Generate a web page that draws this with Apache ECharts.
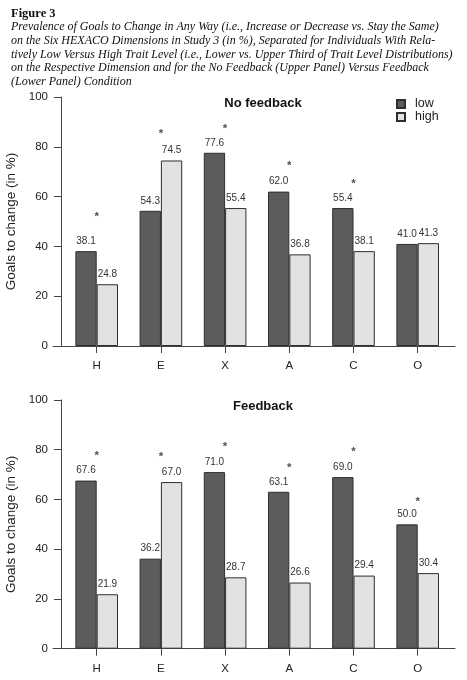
<!DOCTYPE html>
<html>
<head>
<meta charset="utf-8">
<script src="https://cdn.jsdelivr.net/npm/echarts@6/dist/echarts.min.js"></script>
<style>
html,body{margin:0;padding:0;background:#fff;}
#chart{width:467px;height:680px;}
</style>
</head>
<body>
<div id="chart"></div>
<script>
// ---- data ----
const categories = ['H', 'E', 'X', 'A', 'C', 'O'];
const noFeedbackLow  = [38.1, 54.3, 77.6, 62.0, 55.4, 41.0];
const noFeedbackHigh = [24.8, 74.5, 55.4, 36.8, 38.1, 41.3];
const feedbackLow    = [67.6, 36.2, 71.0, 63.1, 69.0, 50.0];
const feedbackHigh   = [21.9, 67.0, 28.7, 26.6, 29.4, 30.4];
// significance marker heights (estimated, in %)
const noFeedbackStars = [51.9, 85.4, 87.4, 72.3, 65.1, null];
const feedbackStars   = [77.6, 77.2, 81.2, 72.8, 79.2, 58.9];
const yTicks = [0, 20, 40, 60, 80, 100];
const panelTitles = ['No feedback', 'Feedback'];
const seriesNames = ['low', 'high'];
const figureLabel = 'Figure 3';
const captionLines = [
  'Prevalence of Goals to Change in Any Way (i.e., Increase or Decrease vs. Stay the Same)',
  'on the Six HEXACO Dimensions in Study 3 (in %), Separated for Individuals With Rela-',
  'tively Low Versus High Trait Level (i.e., Lower vs. Upper Third of Trait Level Distributions)',
  'on the Respective Dimension and for the No Feedback (Upper Panel) Versus Feedback',
  '(Lower Panel) Condition'
];
const yAxisTitle = 'Goals to change (in %)';

// ---- styling ----
const SANS = '"Liberation Sans", Arial, sans-serif';
const SERIF = '"Liberation Serif", "Times New Roman", serif';
const AX = '#444';
const DARK = '#5c5c5c';
const LIGHT = '#e2e2e2';
const BORDER = '#2e2e2e';

const panels = [
  {top: 97, bottom: 334, low: noFeedbackLow, high: noFeedbackHigh, stars: noFeedbackStars, title: panelTitles[0], titleTop: 92},
  {top: 400, bottom: 31.3, low: feedbackLow, high: feedbackHigh, stars: feedbackStars, title: panelTitles[1], titleTop: 395}
];

const grid = [], xAxis = [], yAxis = [], series = [];
const titles = [
  {text: figureLabel, left: 6, top: 2, textStyle: {fontFamily: SERIF, fontSize: 12.5, fontWeight: 'bold', color: '#111'}},
  {text: captionLines.join('\n'), left: 6, top: 15.5, textStyle: {fontFamily: SERIF, fontSize: 12, fontStyle: 'italic', fontWeight: 'normal', color: '#111', lineHeight: 13.65}}
];

const labelFmt = p => (p.value == null ? '' : Number(p.value).toFixed(1));

panels.forEach((p, i) => {
  const gBar = grid.length;
  grid.push({left: 64.6, right: 17.2, top: p.top, bottom: p.bottom, containLabel: false, outerBoundsMode: 'none'});
  const gBase = grid.length;
  grid.push({left: 53, right: 12, top: p.top, bottom: p.bottom, containLabel: false, outerBoundsMode: 'none'});

  xAxis.push({
    type: 'category', gridIndex: gBar, data: categories,
    axisLine: {show: false},
    axisTick: {show: true, alignWithLabel: true, length: 7, lineStyle: {color: AX}},
    axisLabel: {color: '#222', fontFamily: SANS, fontSize: 11.5, margin: 14}
  });
  xAxis.push({
    type: 'value', gridIndex: gBase, min: 0, max: 1,
    axisLine: {show: true, lineStyle: {color: AX, width: 1}},
    axisTick: {show: false}, axisLabel: {show: false}, splitLine: {show: false}
  });
  yAxis.push({
    type: 'value', gridIndex: gBar, min: yTicks[0], max: yTicks[yTicks.length - 1], interval: 20,
    offset: 3.6,
    name: yAxisTitle, nameLocation: 'middle', nameGap: 35,
    nameTextStyle: {fontFamily: SANS, fontSize: 13.5, color: '#222'},
    axisLine: {show: true, lineStyle: {color: AX}},
    axisTick: {show: true, length: 7, lineStyle: {color: AX}},
    axisLabel: {color: '#222', fontFamily: SANS, fontSize: 11.5, margin: 13},
    splitLine: {show: false}
  });
  yAxis.push({type: 'value', gridIndex: gBase, min: 0, max: 1, show: false});

  const xi = xAxis.length - 2, yi = yAxis.length - 2;
  const barLabel = {show: true, position: 'top', distance: 5, formatter: labelFmt, fontFamily: SANS, fontSize: 10, color: '#333'};
  series.push({
    name: seriesNames[0], type: 'bar', xAxisIndex: xi, yAxisIndex: yi, data: p.low,
    barGap: '0%', barCategoryGap: '33.6%',
    itemStyle: {color: DARK, borderColor: BORDER, borderWidth: 1},
    label: barLabel, emphasis: {disabled: true}
  });
  series.push({
    name: seriesNames[1], type: 'bar', xAxisIndex: xi, yAxisIndex: yi, data: p.high,
    barGap: '0%', barCategoryGap: '33.6%',
    itemStyle: {color: LIGHT, borderColor: BORDER, borderWidth: 1},
    label: barLabel, emphasis: {disabled: true}
  });
  series.push({
    name: 'sig' + i, type: 'scatter', xAxisIndex: xi, yAxisIndex: yi, data: p.stars,
    symbol: 'circle', symbolSize: 2, itemStyle: {color: 'rgba(0,0,0,0)'}, silent: true,
    labelLayout: {hideOverlap: false},
    label: {show: true, position: 'inside', formatter: '*', offset: [2, 9], fontFamily: SANS, fontSize: 11.5, fontWeight: 'bold', color: '#222'}
  });
  titles.push({text: p.title, left: 258, textAlign: 'center', top: p.titleTop,
    textStyle: {fontFamily: SANS, fontSize: 13, fontWeight: 'bold', color: '#111'}});
});

const chart = echarts.init(document.getElementById('chart'));
chart.setOption({
  backgroundColor: '#fff',
  animation: false,
  title: titles,
  legend: {
    data: seriesNames, orient: 'vertical', left: 396, top: 97.5, padding: 0,
    itemWidth: 8, itemHeight: 8, itemGap: 0, icon: 'rect',
    textStyle: {fontFamily: SANS, fontSize: 12.5, color: '#222', lineHeight: 13, padding: [0, 0, 0, 5]},
    selectedMode: false
  },
  grid: grid, xAxis: xAxis, yAxis: yAxis, series: series
});
</script>
</body>
</html>
